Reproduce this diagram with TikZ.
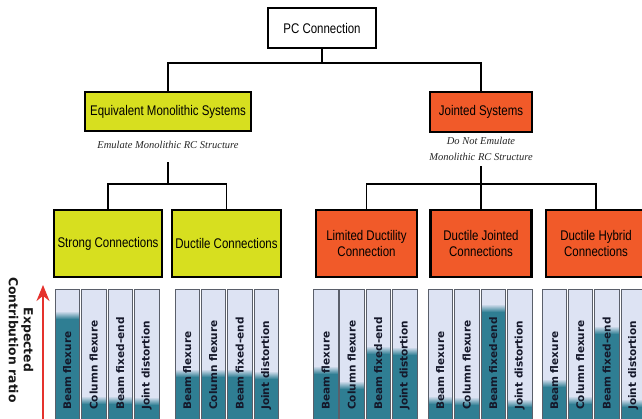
\documentclass[tikz,border=0pt]{standalone}
\usepackage{fontspec}
\setmainfont{Liberation Sans}
\newfontfamily\narrowsans[FakeStretch=0.82]{Liberation Sans}
\newfontfamily\subserif{Liberation Serif}
\newfontfamily\barfont{DejaVu Sans}
\usetikzlibrary{arrows.meta}
\definecolor{ylw}{HTML}{D7DF1F}
\definecolor{org}{HTML}{F15A29}
\definecolor{barbg}{HTML}{DDE3F3}
\definecolor{barteal}{HTML}{2F7E93}
\definecolor{barline}{HTML}{5A5F6A}
\definecolor{arrred}{HTML}{E5322D}
\definecolor{bartxt}{HTML}{15182A}
\newcommand\mybar[4]{%
  \fill[barbg] (#1,289) rectangle (#1+24.5,430);
  \shade[top color=barbg, middle color=white!70!barbg, bottom color=barteal] (#1,#2-6) rectangle (#1+24.5,#2+2);
  \fill[barteal] (#1,#2+2) rectangle (#1+24.5,430);
  \draw[barline, line width=0.9pt] (#1,289) rectangle (#1+24.5,430);
  \node[bartext] (#4) at (#1+12.25,410) {#3};
}
\begin{document}
\begin{tikzpicture}[x=1pt,y=-1pt,
  box/.style={draw=black, line width=2.6pt, inner sep=0pt, align=center, text=black,
    font=\narrowsans\fontsize{14}{16.5}\selectfont},
  sub/.style={inner sep=1pt, align=center, text=black!85,
    font=\subserif\itshape\fontsize{10.5}{16}\selectfont},
  conn/.style={draw=black, line width=1.8pt},
  bartext/.style={rotate=90, anchor=west, inner sep=0pt, text=bartxt,
    font=\barfont\bfseries\fontsize{10.5}{12}\selectfont}
]
\useasboundingbox (0,0) rectangle (642,418);
\clip (0,0) rectangle (642,418);
\fill[white] (0,0) rectangle (642,418);

% top level
\node[box, fill=white, minimum width=108pt, minimum height=40pt] (pc) at (322,28) {PC Connection};
\node[box, fill=ylw, minimum width=166pt, minimum height=39pt] (ems) at (168,111.5) {Equivalent Monolithic Systems};
\node[box, fill=org, minimum width=102pt, minimum height=40pt] (js) at (481,112) {Jointed Systems};

\node[sub] (emssub) at (168,145) {Emulate Monolithic RC Structure};
\node[sub] (jssub) at (481,149) {Do Not Emulate\\Monolithic RC Structure};

% third level
\node[box, fill=ylw, minimum width=108pt, minimum height=67pt] (strong) at (108,243.5) {Strong Connections};
\node[box, fill=ylw, minimum width=109pt, minimum height=67pt] (ductile) at (226.5,243.5) {Ductile Connections};
\node[box, fill=org, minimum width=101pt, minimum height=67pt] (ldc) at (366.5,243.5) {Limited Ductility\\Connection};
\node[box, fill=org, minimum width=101pt, minimum height=67pt] (djc) at (481,243.5) {Ductile Jointed\\Connections};
\node[box, fill=org, minimum width=100pt, minimum height=67pt] (dhc) at (596,243.5) {Ductile Hybrid\\Connections};

% connectors
\coordinate (h1) at (322,63);
\draw[conn] (pc.south) -- (h1);
\draw[conn] (h1) -| (ems.north);
\draw[conn] (h1) -| (js.north);

\coordinate (e0) at (168,162);
\coordinate (e1) at (168,184);
\draw[conn] (e0) -- (e1);
\draw[conn] (e1) -| (strong.north);
\draw[conn] (e1) -| (ductile.north);

\coordinate (j0) at (481,166);
\coordinate (j1) at (481,184);
\draw[conn] (j0) -- (j1);
\draw[conn] (j1) -| (ldc.north);
\draw[conn] (j1) -- (djc.north);
\draw[conn] (j1) -| (dhc.north);

% bars
\mybar{55}{317}{Beam flexure}{b11}
\mybar{81.5}{402}{Column flexure}{b12}
\mybar{108}{402}{Beam fixed-end}{b13}
\mybar{134.5}{403}{Joint distortion}{b14}

\mybar{175}{375}{Beam flexure}{b21}
\mybar{201}{375}{Column flexure}{b22}
\mybar{227.5}{375}{Beam fixed-end}{b23}
\mybar{254}{377}{Joint distortion}{b24}

\mybar{313.5}{372}{Beam flexure}{b31}
\mybar{339.5}{387}{Column flexure}{b32}
\mybar{366}{352}{Beam fixed-end}{b33}
\mybar{392.5}{353}{Joint distortion}{b34}

\mybar{428}{402}{Beam flexure}{b41}
\mybar{454.5}{403}{Column flexure}{b42}
\mybar{481}{310}{Beam fixed-end}{b43}
\mybar{507.5}{405}{Joint distortion}{b44}

\mybar{542}{385}{Beam flexure}{b51}
\mybar{568}{402}{Column flexure}{b52}
\mybar{594.5}{332}{Beam fixed-end}{b53}
\mybar{621}{405}{Joint distortion}{b54}

% axis arrow and label
\coordinate (arrB) at (43,425);
\coordinate (arrT) at (43,285);
\draw[arrred, line width=2pt, -{Stealth[length=16pt,width=13pt]}] (arrB) -- (arrT);
\node[rotate=-90, align=center, inner sep=0pt, text=black!90,
  font=\barfont\bfseries\fontsize{12.4}{15}\selectfont] (ylab) at (21,340) {Expected\\Contribution ratio};
\end{tikzpicture}
\end{document}
